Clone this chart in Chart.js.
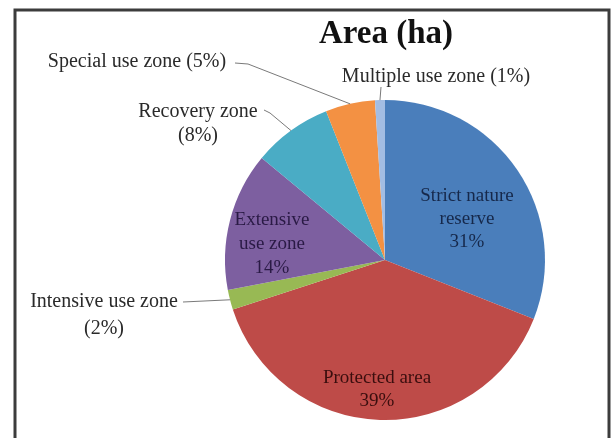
<!DOCTYPE html>
<html>
<head>
<meta charset="utf-8">
<script src="https://cdn.jsdelivr.net/npm/chart.js@4/dist/chart.umd.min.js"></script>
<style>
  html, body { margin: 0; padding: 0; background: #fff; }
  #wrap { width: 611px; height: 438px; position: relative; }
</style>
</head>
<body>
<div id="wrap"><canvas id="chart" width="611" height="438"></canvas></div>
<script>
/* ===== chart data ===== */
var zones = ['Strict nature reserve', 'Protected area', 'Intensive use zone', 'Extensive use zone',
             'Recovery zone', 'Special use zone', 'Multiple use zone'];
var shares = [31, 39, 2, 14, 8, 5, 1];
var chartTitle = 'Area (ha)';

/* ==== looks ==== */
var sliceColors = ['#4a7ebb', '#be4b48', '#98b954', '#7d5fa0', '#4aacc5', '#f39143', '#a3bde3'];
var serif = "'Liberation Serif', 'Times New Roman', serif";

// how each label sits: inside the slice, or outside with a leader line
// lines: how the name is broken; x/y: centre of first line; gap: line step
var labelLayout = [
    { inside: true, lines: ['Strict nature', 'reserve'], x: 467, y: 196, gap: 23, color: '#16284a' },
    { inside: true, lines: ['Protected area'], x: 377, y: 378, gap: 23, color: '#3a0e0e' },
    { inside: false, lines: ['Intensive use zone'], pctOwnLine: true, x: 104, y: 302, gap: 27,
      leader: [[183, 302]] },
    { inside: true, lines: ['Extensive', 'use zone'], x: 272, y: 220, gap: 24, color: '#2a1a45' },
    { inside: false, lines: ['Recovery zone'], pctOwnLine: true, x: 198, y: 112, gap: 24,
      leader: [[264, 110], [270, 113]] },
    { inside: false, lines: ['Special use zone'], pctOwnLine: false, x: 137, y: 62, gap: 24,
      leader: [[235, 63], [248, 64]] },
    { inside: false, lines: ['Multiple use zone'], pctOwnLine: false, x: 436, y: 77, gap: 24,
      leader: [[381, 87]] }
];

var decorations = {
    id: 'decorations',
    beforeDraw: function(chart) {
        var ctx = chart.ctx;
        ctx.save();
        ctx.fillStyle = '#fff';
        ctx.fillRect(0, 0, chart.width, chart.height);
        ctx.restore();
    },
    afterDraw: function(chart) {
        var ctx = chart.ctx;
        var arcs = chart.getDatasetMeta(0).data;
        ctx.save();

        // frame
        ctx.strokeStyle = '#3c3c3c';
        ctx.lineWidth = 3;
        ctx.strokeRect(15, 10, 594, 460);

        // title
        ctx.fillStyle = '#111';
        ctx.font = 'bold 33px ' + serif;
        ctx.textAlign = 'center';
        ctx.textBaseline = 'middle';
        ctx.fillText(chartTitle, 386, 34);

        // slice labels
        labelLayout.forEach(function(lab, i) {
            var arc = arcs[i];
            var pct = shares[i] + '%';
            var lines = lab.lines.slice();
            if (lab.inside) {
                lines.push(pct);
                ctx.font = '19px ' + serif;
                ctx.fillStyle = lab.color;
            } else {
                if (lab.pctOwnLine) lines.push('(' + pct + ')');
                else lines[lines.length - 1] += ' (' + pct + ')';
                ctx.font = '20px ' + serif;
                ctx.fillStyle = '#2a2a2a';

                // leader line runs to the middle of the slice's rim
                var mid = (arc.startAngle + arc.endAngle) / 2;
                var ex = arc.x + Math.cos(mid) * arc.outerRadius;
                var ey = arc.y + Math.sin(mid) * arc.outerRadius;
                ctx.strokeStyle = '#7a7a7a';
                ctx.lineWidth = 1;
                ctx.beginPath();
                ctx.moveTo(lab.leader[0][0], lab.leader[0][1]);
                for (var k = 1; k < lab.leader.length; k++) ctx.lineTo(lab.leader[k][0], lab.leader[k][1]);
                ctx.lineTo(ex, ey);
                ctx.stroke();
            }
            lines.forEach(function(t, j) {
                ctx.fillText(t, lab.x, lab.y + j * lab.gap);
            });
        });
        ctx.restore();
    }
};

var ctx = document.getElementById('chart');
var chart = new Chart(ctx, {
    type: 'pie',
    data: {
        labels: zones,
        datasets: [{
            data: shares,
            backgroundColor: sliceColors,
            borderWidth: 0
        }]
    },
    options: {
        responsive: false,
        animation: false,
        layout: { padding: { left: 225, right: 66, top: 100, bottom: 18 } },
        plugins: {
            legend: { display: false },
            tooltip: { enabled: false },
            title: { display: false }
        }
    },
    plugins: [decorations]
});
</script>
</body>
</html>
